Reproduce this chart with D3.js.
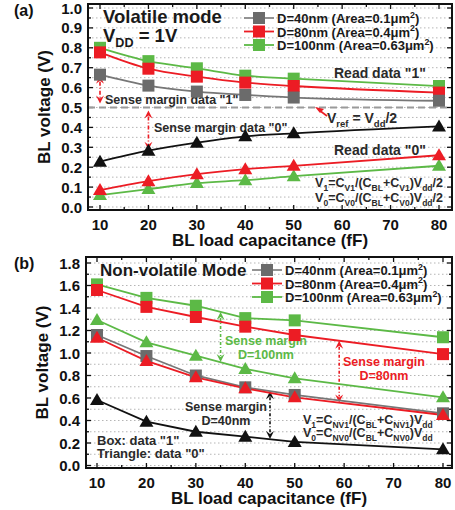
<!DOCTYPE html>
<html>
<head>
<meta charset="utf-8">
<script src="https://cdn.jsdelivr.net/npm/d3@7"></script>
<style>
  body { margin: 0; background: #fff; }
  svg { display: block; font-family: 'Liberation Sans', Arial, sans-serif; font-weight: bold; }
</style>
</head>
<body>
<svg id="chart" width="455" height="510"></svg>
<script>
// ---- data ----
var capacitance = [10, 20, 30, 40, 50, 80];
var xTicks = [10, 20, 30, 40, 50, 60, 70, 80];

// panel (a) volatile mode
var volGray1 = [0.665, 0.61, 0.58, 0.563, 0.55, 0.534];
var volRed1 = [0.777, 0.695, 0.655, 0.625, 0.608, 0.575];
var volGreen1 = [0.80, 0.733, 0.697, 0.66, 0.645, 0.608];
var volBlack0 = [0.228, 0.283, 0.323, 0.355, 0.37, 0.405];
var volRed0 = [0.085, 0.13, 0.165, 0.19, 0.207, 0.26];
var volGreen0 = [0.06, 0.09, 0.12, 0.135, 0.155, 0.207];
var vref = 0.5;

// panel (b) non-volatile mode
var nvGreen1 = [1.61, 1.49, 1.42, 1.31, 1.29, 1.14];
var nvRed1 = [1.56, 1.41, 1.32, 1.234, 1.16, 0.99];
var nvGray1 = [1.16, 0.973, 0.80, 0.695, 0.627, 0.464];
var nvGreen0 = [1.293, 1.095, 0.976, 0.858, 0.775, 0.606];
var nvRed0 = [1.136, 0.93, 0.784, 0.686, 0.606, 0.449];
var nvBlack0 = [0.582, 0.39, 0.30, 0.256, 0.21, 0.144];

var legendLabels = ['D=40nm (Area=0.1μm^{2})', 'D=80nm (Area=0.4μm^{2})', 'D=100nm (Area=0.63μm^{2})'];

var GRAY = '#6b6b6b', RED = '#ec1c24', GREEN = '#5cb946', BLACK = '#111', TXT = '#2a2a2a';

var svg = d3.select('#chart');

// text with _{sub} and ^{sup}
function rich(text, str, size) {
  var re = /([_^])\{([^}]*)\}|([^_^]+)/g, m, shift = 0;
  while ((m = re.exec(str))) {
    if (m[3]) {
      text.append('tspan').attr('dy', -shift).text(m[3]);
      shift = 0;
    } else {
      var d = m[1] === '_' ? size * 0.28 : -size * 0.42;
      text.append('tspan').attr('dy', d - shift).attr('font-size', size * 0.68).text(m[2]);
      shift = d;
    }
  }
  return text;
}

function label(g, x, y, str, size, color, anchor) {
  var t = g.append('text').attr('x', x).attr('y', y)
    .attr('font-size', size).attr('fill', color || TXT)
    .attr('text-anchor', anchor || 'start');
  return rich(t, str, size);
}

function marker(g, type, x, y, color) {
  if (type === 'sq') {
    g.append('rect').attr('x', x - 6).attr('y', y - 6).attr('width', 12).attr('height', 12).attr('fill', color);
  } else {
    g.append('path').attr('d', 'M' + x + ',' + (y - 7) + 'L' + (x + 7) + ',' + (y + 5) + 'L' + (x - 7) + ',' + (y + 5) + 'Z')
      .attr('fill', color);
  }
}

function arrow(g, x, y1, y2, color, dash) {
  var dir = y2 > y1 ? 1 : -1;
  g.append('line').attr('x1', x).attr('x2', x).attr('y1', y1 + dir * 6).attr('y2', y2 - dir * 6)
    .attr('stroke', color).attr('stroke-width', 1.6).attr('stroke-dasharray', dash || '4,2,1,2');
  [[y1, -dir], [y2, dir]].forEach(function (e) {
    var y = e[0], s = e[1];
    g.append('path').attr('d', 'M' + x + ',' + y + 'L' + (x - 4) + ',' + (y - s * 8) + 'L' + x + ',' + (y - s * 5) + 'L' + (x + 4) + ',' + (y - s * 8) + 'Z')
      .attr('fill', color);
  });
}

function panel(opt) {
  var g = svg.append('g');
  var x = d3.scaleLinear().domain([10, 80]).range(opt.xr);
  var y = d3.scaleLinear().domain([0, opt.ymax]).range(opt.yr);
  var L = opt.frame[0], R = opt.frame[1], T = opt.frame[2], B = opt.frame[3];

  // grid
  d3.range(0, opt.ymax + 1e-9, opt.minor).forEach(function (v) {
    g.append('line').attr('x1', L).attr('x2', R).attr('y1', y(v)).attr('y2', y(v))
      .attr('stroke', '#b5b5b5').attr('stroke-width', 1).attr('stroke-dasharray', '1.5,2.5');
  });

  // ticks
  d3.range(0, opt.ymax + 1e-9, opt.minor).forEach(function (v, i) {
    var len = i % 2 === 0 ? 5 : 3;
    g.append('line').attr('x1', L).attr('x2', L + len).attr('y1', y(v)).attr('y2', y(v)).attr('stroke', '#111').attr('stroke-width', 1.3);
    g.append('line').attr('x1', R).attr('x2', R - len).attr('y1', y(v)).attr('y2', y(v)).attr('stroke', '#111').attr('stroke-width', 1.3);
  });
  d3.range(10, 80.1, 5).forEach(function (v, i) {
    var len = i % 2 === 0 ? 5 : 3;
    g.append('line').attr('x1', x(v)).attr('x2', x(v)).attr('y1', B).attr('y2', B - len).attr('stroke', '#111').attr('stroke-width', 1.3);
    g.append('line').attr('x1', x(v)).attr('x2', x(v)).attr('y1', T).attr('y2', T + len).attr('stroke', '#111').attr('stroke-width', 1.3);
  });

  // tick labels
  d3.range(0, opt.ymax + 1e-9, opt.major).forEach(function (v) {
    g.append('text').attr('x', L - 6).attr('y', y(v) + 5.5).attr('text-anchor', 'end')
      .attr('font-size', 15).attr('fill', '#111').text(v.toFixed(1));
  });
  xTicks.forEach(function (v) {
    g.append('text').attr('x', x(v)).attr('y', B + 20).attr('text-anchor', 'middle')
      .attr('font-size', 15).attr('fill', '#111').text(v);
  });

  // axis titles
  g.append('text').attr('x', (L + R) / 2).attr('y', B + 36).attr('text-anchor', 'middle')
    .attr('font-size', 17).attr('fill', '#111').text('BL load capacitance (fF)');
  g.append('text').attr('transform', 'translate(' + (L - 38) + ',' + ((T + B) / 2) + ') rotate(-90)')
    .attr('text-anchor', 'middle').attr('font-size', 17).attr('fill', '#111').text('BL voltage (V)');
  g.append('text').attr('x', 14).attr('y', T + 12).attr('font-size', 16).attr('fill', '#111').text(opt.tag);

  opt.extra && opt.extra(g, x, y);

  // series
  var line = d3.line().x(function (d, i) { return x(capacitance[i]); }).y(function (d) { return y(d); })
    .curve(opt.curve);
  opt.series.forEach(function (s) {
    g.append('path').datum(s.v).attr('d', line).attr('fill', 'none')
      .attr('stroke', s.line || s.c).attr('stroke-width', 1.8);
  });
  opt.series.forEach(function (s) {
    s.v.forEach(function (d, i) { marker(g, s.m, x(capacitance[i]), y(d), s.c); });
  });

  // frame
  g.append('rect').attr('x', L).attr('y', T).attr('width', R - L).attr('height', B - T)
    .attr('fill', 'none').attr('stroke', '#111').attr('stroke-width', 2);

  // legend
  [GRAY, RED, GREEN].forEach(function (c, i) {
    var ly = opt.legend[1] + i * 13.5;
    g.append('line').attr('x1', opt.legend[0]).attr('x2', opt.legend[0] + 30).attr('y1', ly).attr('y2', ly)
      .attr('stroke', c === GRAY ? '#888' : c).attr('stroke-width', 1.8);
    marker(g, 'sq', opt.legend[0] + 15, ly, c);
    label(g, opt.legend[0] + 33, ly + 5, legendLabels[i], 13, '#1a1a1a');
  });
  return { g: g, x: x, y: y };
}

// ---- panel (a) ----
panel({
  tag: '(a)', xr: [100, 439], yr: [207, 8], ymax: 1.0, major: 0.1, minor: 0.05,
  frame: [88, 452, 4, 210], curve: d3.curveMonotoneX, legend: [244, 18],
  series: [
    { v: volGreen1, c: GREEN, m: 'sq' },
    { v: volRed1, c: RED, m: 'sq' },
    { v: volGray1, c: GRAY, m: 'sq', line: '#777' },
    { v: volGreen0, c: GREEN, m: 'tri' },
    { v: volRed0, c: RED, m: 'tri' },
    { v: volBlack0, c: BLACK, m: 'tri' }
  ],
  extra: function (g, x, y) {
    g.append('line').attr('x1', 88).attr('x2', 452).attr('y1', y(vref)).attr('y2', y(vref))
      .attr('stroke', '#9a9a9a').attr('stroke-width', 2).attr('stroke-dasharray', '7,4');
    label(g, 103, 23, 'Volatile mode', 18.5, '#1a1a1a');
    label(g, 103, 42, 'V_{DD} = 1V', 18.5, '#1a1a1a');
    label(g, 334, 78, 'Read data "1"', 14);
    label(g, 334, 155, 'Read data "0"', 14);
    label(g, 105, 104, 'Sense margin data "1"', 12.5);
    label(g, 154, 132, 'Sense margin data "0"', 12.5);
    label(g, 327, 123, 'V_{ref} = V_{dd}/2', 14);
    label(g, 443, 187, 'V_{1}=C_{V1}/(C_{BL}+C_{V1})V_{dd}/2', 12.5, TXT, 'end');
    label(g, 443, 202, 'V_{0}=C_{V0}/(C_{BL}+C_{V0})V_{dd}/2', 12.5, TXT, 'end');
    arrow(g, x(10), y(0.66), y(vref) - 4, RED);
    arrow(g, x(20), y(vref) + 3, y(0.288), RED);
    // small arrow to the V_ref line
    g.append('line').attr('x1', 327).attr('y1', 116).attr('x2', 319).attr('y2', 110)
      .attr('stroke', RED).attr('stroke-width', 1.6);
    g.append('path').attr('d', 'M315,107L324,109L320,113Z').attr('fill', RED);
  }
});

// ---- panel (b) ----
panel({
  tag: '(b)', xr: [97, 443], yr: [465.5, 263], ymax: 1.8, major: 0.2, minor: 0.1,
  frame: [86, 452, 257, 468], curve: d3.curveLinear, legend: [252, 270],
  series: [
    { v: nvGreen1, c: GREEN, m: 'sq' },
    { v: nvRed1, c: RED, m: 'sq' },
    { v: nvGreen0, c: GREEN, m: 'tri' },
    { v: nvGray1, c: GRAY, m: 'sq', line: '#777' },
    { v: nvRed0, c: RED, m: 'tri' },
    { v: nvBlack0, c: BLACK, m: 'tri' }
  ],
  extra: function (g, x, y) {
    label(g, 100, 276, 'Non-volatile Mode', 17, '#1a1a1a');
    label(g, 97, 445, 'Box: data "1"', 13);
    label(g, 97, 458, 'Triangle: data "0"', 13);
    arrow(g, x(35), y(1.365), y(0.92), GREEN, '3,2,1,2');
    label(g, 266, 345, 'Sense margin', 12.5, GREEN, 'middle');
    label(g, 266, 359, 'D=100nm', 12.5, GREEN, 'middle');
    arrow(g, x(59), y(1.11), y(0.56), RED, '3,2,1,2');
    label(g, 384, 366, 'Sense margin', 12.5, RED, 'middle');
    label(g, 384, 380, 'D=80nm', 12.5, RED, 'middle');
    arrow(g, x(45), y(0.66), y(0.235), BLACK, '3,2,1,2');
    label(g, 226, 411, 'Sense margin', 12.5, TXT, 'middle');
    label(g, 226, 425, 'D=40nm', 12.5, TXT, 'middle');
    label(g, 303, 424, 'V_{1}=C_{NV1}/(C_{BL}+C_{NV1})V_{dd}', 12.5);
    label(g, 303, 437, 'V_{0}=C_{NV0}/(C_{BL}+C_{NV0})V_{dd}', 12.5);
  }
});
</script>
</body>
</html>
